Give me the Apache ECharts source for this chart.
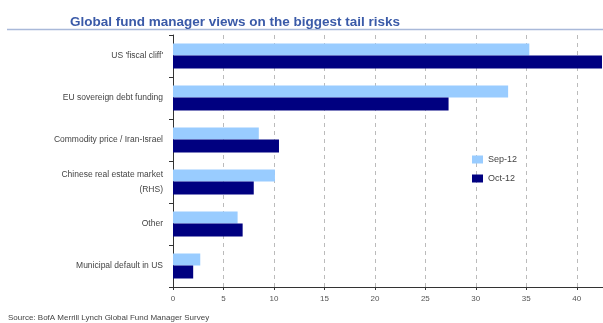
<!DOCTYPE html>
<html><head><meta charset="utf-8">
<script src="https://cdn.jsdelivr.net/npm/echarts@6/dist/echarts.min.js"></script>
<style>html,body{margin:0;padding:0;background:#fff}#c{width:603px;height:323px}</style>
</head><body><div id="c"></div>
<script>
const categories = ["US 'fiscal cliff'", "EU sovereign debt funding", "Commodity price / Iran-Israel", "Chinese real estate market\n(RHS)", "Other", "Municipal default in US"];
const sep12 = [35.3, 33.2, 8.5, 10.1, 6.4, 2.7];
const oct12 = [42.5, 27.3, 10.5, 8.0, 6.9, 2.0];
const seriesNames = ["Sep-12", "Oct-12"];
const titleText = "Global fund manager views on the biggest tail risks";
const sourceText = "Source: BofA Merrill Lynch Global Fund Manager Survey";

const chart = echarts.init(document.getElementById('c'), null, {renderer: 'canvas'});
chart.setOption({
  animation: false,
  backgroundColor: '#fff',
  title: [
    {text: titleText, left: 65, top: 10, textStyle: {color: '#3a5aa8', fontSize: 13.5, fontWeight: 'bold', fontFamily: 'Liberation Sans'}},
    {text: sourceText, left: 3, top: 309, textStyle: {color: '#444', fontSize: 8, fontWeight: 'normal', fontFamily: 'Liberation Sans'}}
  ],
  graphic: [{type: 'line', shape: {x1: 7, y1: 29.5, x2: 603, y2: 29.5}, style: {stroke: '#a9b9d9', lineWidth: 1.5}}],
  legend: {
    data: seriesNames, orient: 'vertical', left: 467, top: 150, icon: 'rect', itemWidth: 11, itemHeight: 8, itemGap: 10,
    textStyle: {color: '#444', fontSize: 9, fontFamily: 'Liberation Sans'}
  },
  grid: {left: 173, right: 0, top: 35, bottom: 36, containLabel: false},
  xAxis: {
    type: 'value', min: 0, max: 42.6, interval: 5,
    axisLine: {show: true, lineStyle: {color: '#333'}},
    axisTick: {show: true, inside: false, length: 3, lineStyle: {color: '#333'}},
    axisLabel: {color: '#555', fontSize: 8, fontFamily: 'Liberation Sans', showMaxLabel: false, margin: 8},
    splitLine: {show: true, lineStyle: {color: '#bbb', type: [4, 4]}}
  },
  yAxis: {
    type: 'category', data: categories, inverse: true,
    axisLine: {show: true, lineStyle: {color: '#333'}},
    axisTick: {show: true, length: 4, lineStyle: {color: '#333'}},
    axisLabel: {color: '#444', fontSize: 8.5, fontFamily: 'Liberation Sans', margin: 10, lineHeight: 15}
  },
  series: [
    {name: seriesNames[0], type: 'bar', data: sep12, barWidth: 12, barGap: '0%', itemStyle: {color: '#99ccff'}},
    {name: seriesNames[1], type: 'bar', data: oct12, barWidth: 13, barGap: '0%', itemStyle: {color: '#000080'}}
  ]
});
</script></body></html>
